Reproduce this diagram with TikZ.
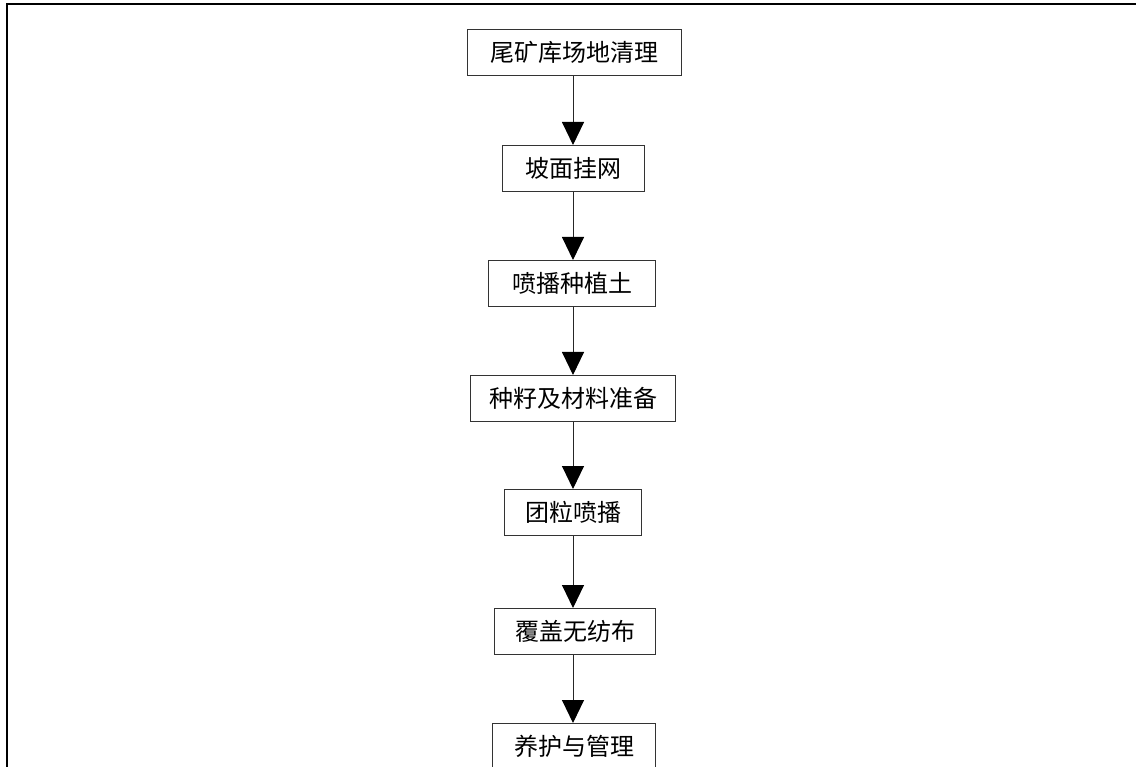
\documentclass[tikz,border=0pt]{standalone}
\usepackage{fontspec}
\newfontfamily\cjk{Noto Sans CJK SC}
\usetikzlibrary{arrows.meta}
\begin{document}
\begin{tikzpicture}[x=1pt,y=-1pt,
  stepbox/.style={draw=black!80,line width=1pt,inner sep=0pt,minimum height=46pt,anchor=north,font=\cjk\fontsize{24}{28}\selectfont},
  flow/.style={draw=black!85,line width=1pt,-{Triangle[width=22pt,length=23pt,color=black]}}]
\useasboundingbox (0,0) rectangle (1136,767);
\draw[line width=2pt] (6.5,767) -- (6.5,4) -- (1136,4);
\node[stepbox,minimum width=214pt] (b1) at (574,29) {尾矿库场地清理};
\node[stepbox,minimum width=142pt] (b2) at (573,145) {坡面挂网};
\node[stepbox,minimum width=167pt] (b3) at (572,260) {喷播种植土};
\node[stepbox,minimum width=205pt] (b4) at (573,375) {种籽及材料准备};
\node[stepbox,minimum width=137pt] (b5) at (573,489) {团粒喷播};
\node[stepbox,minimum width=161pt] (b6) at (575,608) {覆盖无纺布};
\node[stepbox,minimum width=163pt] (b7) at (574,723) {养护与管理};
\coordinate (ax) at (573,0);
\draw[flow] (b1.south -| ax) -- (b2.north -| ax);
\draw[flow] (b2.south -| ax) -- (b3.north -| ax);
\draw[flow] (b3.south -| ax) -- (b4.north -| ax);
\draw[flow] (b4.south -| ax) -- (b5.north -| ax);
\draw[flow] (b5.south -| ax) -- (b6.north -| ax);
\draw[flow] (b6.south -| ax) -- (b7.north -| ax);
\end{tikzpicture}
\end{document}
